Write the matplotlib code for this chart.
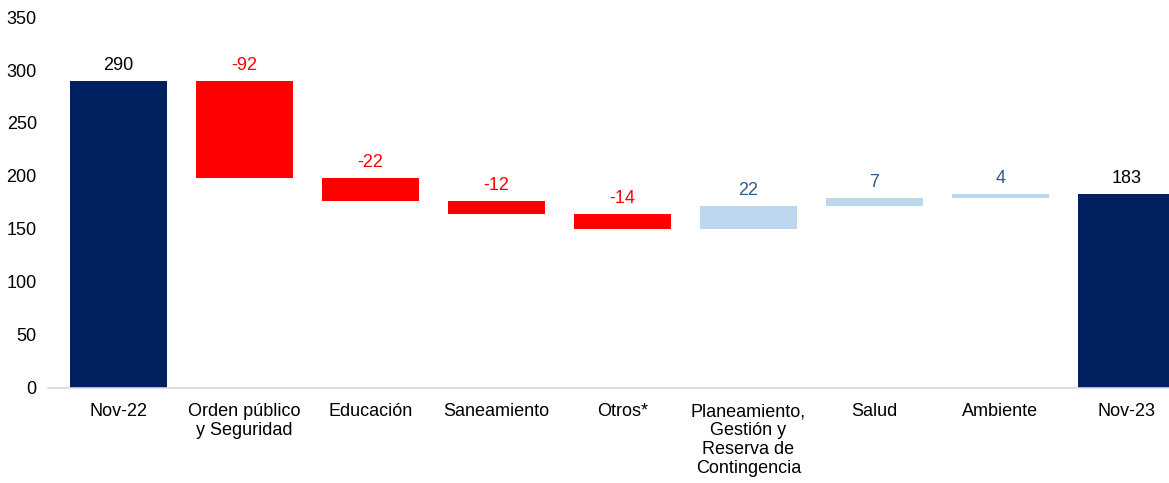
import matplotlib
matplotlib.use("Agg")
from matplotlib import pyplot as plt

categories = ['Nov-22', 'Orden público\ny Seguridad', 'Educación', 'Saneamiento', 'Otros*',
              'Planeamiento,\nGestión y\nReserva de\nContingencia', 'Salud', 'Ambiente', 'Nov-23']
changes = [290, -92, -22, -12, -14, 22, 7, 4, 183]
is_total = [True, False, False, False, False, False, False, False, True]

navy = '#002060'
red = '#FF0000'
light_blue = '#BDD7EE'
pos_text = '#335B88'

plt.rcParams['font.family'] = ['Liberation Sans', 'DejaVu Sans']

fig = plt.figure(figsize=(11.69, 4.83), dpi=100)
ax = fig.add_axes([0.041, 0.1967, 0.959, 0.7681])

running = 0
for i, (cat, val, tot) in enumerate(zip(categories, changes, is_total)):
    if tot:
        bottom, height, color, tcolor = 0, val, navy, 'black'
        running = val
        label = str(val)
    else:
        if val < 0:
            bottom, height, color, tcolor = running + val, -val, red, red
        else:
            bottom, height, color, tcolor = running, val, light_blue, pos_text
        running += val
        label = '{:d}'.format(val)
    ax.bar(i, height, bottom=bottom, width=0.77, color=color)
    ax.annotate(label, (i, bottom + height), xytext=(0, 5), textcoords='offset points',
                ha='center', va='bottom', fontsize=13, color=tcolor)

ax.set_xlim(-0.56, 8.34)
ax.set_ylim(0, 350)
ax.set_yticks(range(0, 351, 50))
ax.set_xticks(range(len(categories)))
ax.set_xticklabels(categories, fontsize=13, linespacing=1.15)
ax.tick_params(axis='y', labelsize=13, length=0, pad=8)
ax.tick_params(axis='x', length=0, pad=11)
for s in ['top', 'right', 'left']:
    ax.spines[s].set_visible(False)
ax.spines['bottom'].set_color('#D9D9D9')
ax.spines['bottom'].set_linewidth(1.2)

fig.savefig('out.png', dpi=100)
